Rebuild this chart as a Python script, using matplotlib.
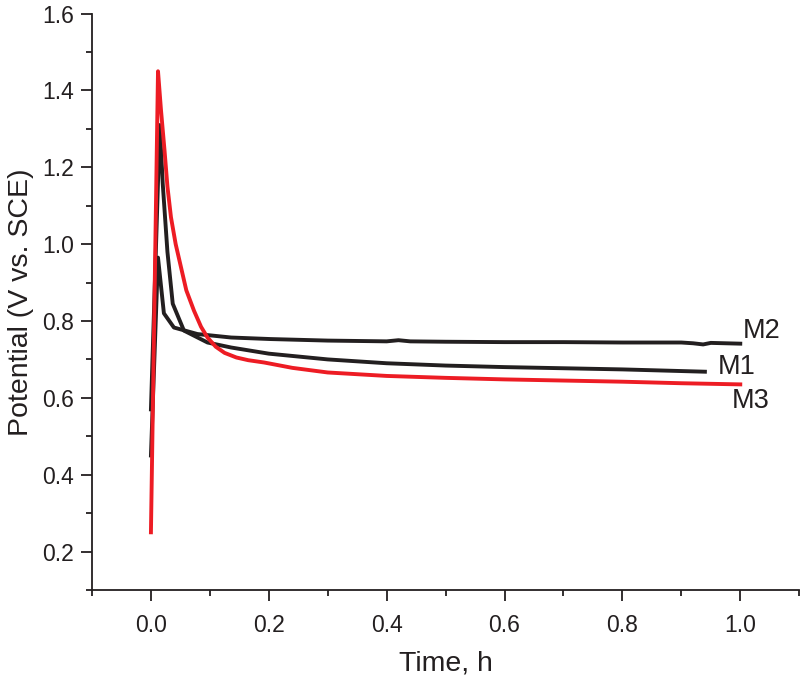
import matplotlib
matplotlib.use("Agg")
import matplotlib.pyplot as plt
from matplotlib.ticker import MultipleLocator

plt.rcParams['font.family'] = ['Liberation Sans', 'DejaVu Sans']

# curves (time in h, potential in V vs. SCE)
t_m1 = [0, 0.015, 0.02, 0.028, 0.037, 0.056, 0.096, 0.136, 0.2, 0.3, 0.4, 0.5, 0.6, 0.7, 0.8, 0.94]
v_m1 = [0.57, 1.31, 1.158, 0.98, 0.845, 0.775, 0.744, 0.731, 0.715, 0.70, 0.69, 0.684, 0.68, 0.677, 0.674, 0.668]

t_m2 = [0, 0.012, 0.022, 0.039, 0.079, 0.136, 0.203, 0.3, 0.4, 0.42, 0.44, 0.5, 0.6, 0.7, 0.8, 0.9, 0.92, 0.937, 0.95, 1.0]
v_m2 = [0.45, 0.965, 0.82, 0.783, 0.766, 0.757, 0.753, 0.749, 0.747, 0.75, 0.747, 0.746, 0.745, 0.745, 0.744, 0.744, 0.742, 0.739, 0.743, 0.741]

t_m3 = [0, 0.012, 0.017, 0.023, 0.028, 0.034, 0.042, 0.051, 0.06, 0.073, 0.085, 0.096, 0.11, 0.125, 0.145, 0.165, 0.192, 0.24, 0.3, 0.4, 0.5, 0.6, 0.7, 0.8, 0.9, 1.0]
v_m3 = [0.25, 1.45, 1.35, 1.245, 1.15, 1.07, 1.0, 0.94, 0.88, 0.827, 0.785, 0.757, 0.733, 0.717, 0.705, 0.698, 0.692, 0.678, 0.666, 0.657, 0.652, 0.648, 0.645, 0.642, 0.638, 0.635]

labels = ["M1", "M2", "M3"]
label_pos = [(0.961, 0.681), (1.005, 0.775), (0.986, 0.592)]

black = '#231f20'
red = '#ed1c24'

fig = plt.figure(figsize=(8, 6.82), dpi=100)
ax = fig.add_axes([0.115, 0.135, 0.884, 0.845])

ax.plot(t_m2, v_m2, color=black, lw=2.8, solid_joinstyle='round')
ax.plot(t_m1, v_m1, color=black, lw=2.8, solid_joinstyle='round')
ax.plot(t_m3, v_m3, color=red, lw=2.8, solid_joinstyle='round')

for lab, (x, y) in zip(labels, label_pos):
    ax.text(x, y, lab, fontsize=19.5, color=black, ha='left', va='center')

ax.set_xlim(-0.1, 1.1)
ax.set_ylim(0.1, 1.6)
ax.xaxis.set_minor_locator(MultipleLocator(0.1))
ax.yaxis.set_minor_locator(MultipleLocator(0.1))
ax.set_xticks([0.0, 0.2, 0.4, 0.6, 0.8, 1.0])
ax.set_yticks([0.2, 0.4, 0.6, 0.8, 1.0, 1.2, 1.4, 1.6])
ax.xaxis.set_major_formatter(plt.FuncFormatter(lambda v, p: "%.1f" % v))
ax.yaxis.set_major_formatter(plt.FuncFormatter(lambda v, p: "%.1f" % v))

for s in ['top', 'right']:
    ax.spines[s].set_visible(False)
for s in ['left', 'bottom']:
    ax.spines[s].set_linewidth(1.3)
    ax.spines[s].set_color(black)

ax.tick_params(which='major', direction='out', length=8, width=1.3, colors=black, labelsize=16.5, pad=5)
ax.tick_params(which='minor', direction='out', length=4.5, width=1.3, colors=black)
ax.tick_params(axis='x', pad=9)

ax.set_xlabel("Time, h", fontsize=20.5, color=black, labelpad=10)
ax.set_ylabel("Potential (V vs. SCE)", fontsize=20.5, color=black, labelpad=6)

fig.savefig("out.png", dpi=100)
